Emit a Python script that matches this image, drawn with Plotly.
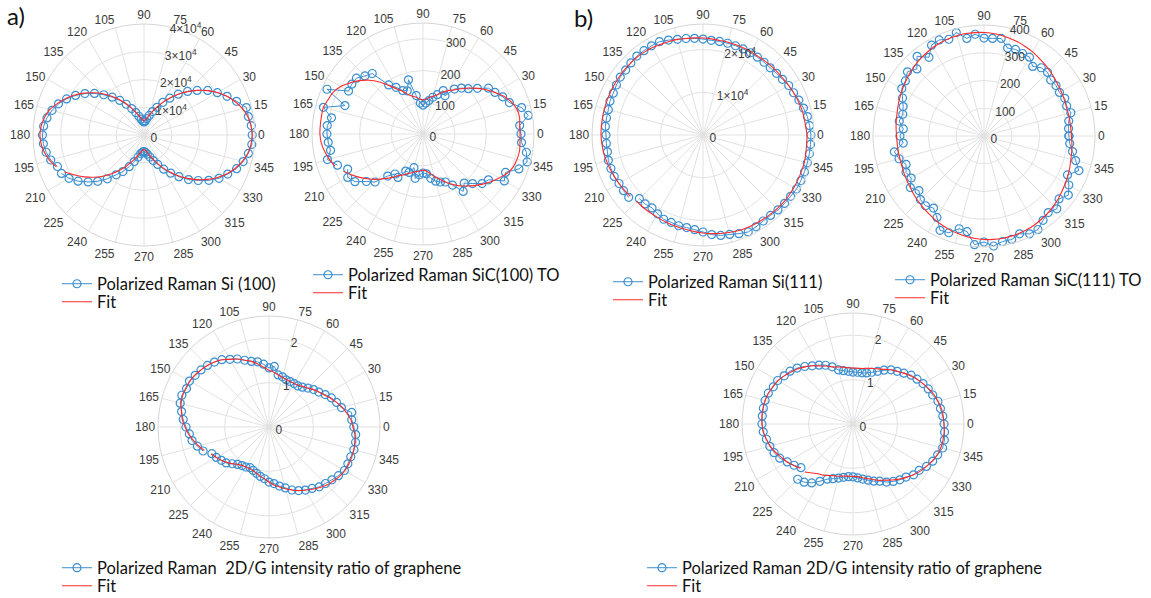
import plotly.graph_objects as go

W, H = 1151, 598
R = 111

# ---------------- data ----------------
ANG_205 = list(range(205, 565, 5))   # measurement angles, start 205 deg
ANG_225 = list(range(225, 585, 5))   # measurement angles, start 225 deg
ANG_0 = list(range(0, 360, 5))       # measurement angles, start 0 deg

SI100_DATA = [32800, 31200, 29000, 26300, 23600, 20600, 17500, 15200, 12600, 10200, 8200, 6800, 6200, 6000,
              6300, 7000, 8200, 9800, 11700, 14200, 16800, 19600, 22700, 25500, 28500, 31200, 33300, 35500, 37000, 38200, 39000,
              39000, 38800, 38200, 38200, 35500, 33000, 30500, 28000, 25000, 22200, 19200, 16200, 13600, 11000, 9000, 7300, 6000, 5000, 4700,
              5000, 5800, 7000, 8600, 10500, 12800, 15200, 17800, 20500, 23300, 26000, 28500, 30800, 32800, 34300, 35500, 36300, 36600, 36400, 35800, 34800, 33200]
SI100_FIT = [31600, 28800, 26300, 23700, 21000, 18200, 15600, 13100, 10800, 8900, 7300, 6200, 5400, 5200,
             5500, 6200, 7500, 9200, 11200, 13700, 16300, 19200, 22100, 25000, 27900, 30600, 33000, 35000, 36700, 38000, 38700,
             39000, 38700, 38000, 36700, 35000, 33000, 30600, 27900, 25000, 22100, 19200, 16300, 13700, 11200, 9200, 7500, 6200, 5500, 5200,
             5400, 6200, 7300, 8900, 10800, 13100, 15600, 18200, 21000, 23700, 26300, 28800, 31100, 33200, 35200, 36400, 37200, 37500, 37200, 36400, 35200, 33600]

SIC100_DATA = [262, 274, 262, 233, 214, 173, 154, 158, 129, 129, 110, 142, 129, 123,
               126, 142, 154, 161, 167, 186, 221, 202, 221, 243, 252, 296, 287, 322, 340, 331, 312,
               309, 306, 337, 322, 290, 277, 262, 252, 224, 202, 189, 173, 139, 151, 132, 120, 107, 98, 91,
               98, 123, 177, 145, 151, 170, 189, 249, 259, 274, 274, 271, 334, 262, 325, 293, 303, 303, 300, 296, 312, 287]
SIC100_FIT = [277, 259, 240, 221, 202, 183, 167, 151, 142, 132, 126, 120, 117, 114,
              117, 126, 139, 151, 167, 183, 199, 214, 230, 246, 262, 277, 293, 303, 307, 309, 307,
              306, 306, 309, 306, 296, 281, 262, 243, 224, 205, 186, 170, 158, 145, 132, 123, 117, 110, 107,
              110, 117, 123, 132, 148, 164, 186, 214, 240, 262, 281, 300, 312, 318, 325, 325, 325, 325, 322, 315, 306, 296]

SI111_DATA = [21080, 21080, 20840, 21310, 21780, 21780, 22010, 22010, 22250, 22720,
              23420, 23890, 24120, 24590, 25060, 24830, 24590, 24590, 24830, 24940, 25060, 25290, 25290, 25290, 25290, 25290, 25290,
              25290, 25060, 24830, 24360, 23890, 23420, 23190, 22720, 22480, 22250, 22250, 22250, 22250, 22250, 22250, 22250, 22250, 22250, 22480,
              22720, 22950, 23190, 23650, 24120, 24120, 24120, 24120, 23890, 23650, 23650, 23420, 23190, 23190, 22950, 22950, 22950,
              22720, 22720, 22720, 22950, 22950, 22950, 22720, 22720, 22720]
SI111_FIT = [22010, 22010, 22010, 22010, 22130, 22250, 22370, 22480, 22720, 22950,
             23190, 23420, 23650, 23890, 24010, 24120, 24240, 24360, 24470, 24590, 24590, 24590, 24590, 24590, 24590, 24470, 24360,
             24360, 24120, 24010, 23890, 23650, 23420, 23190, 22950, 22830, 22720, 22600, 22480, 22480, 22480, 22480, 22480, 22480, 22600, 22720,
             22830, 22950, 23190, 23300, 23420, 23650, 23770, 23890, 23890, 23890, 23890, 23890, 23890, 23890, 23890, 23890, 23890,
             23890, 23770, 23650, 23420, 23190, 22950, 22720, 22480, 22250]

SIC111_DATA = [306, 306, 310, 324, 317, 321, 314, 317, 314, 324, 321, 306, 328, 328, 332, 328, 357, 353,
               353, 368, 357, 386, 371, 382, 378, 346, 375, 342, 360, 346, 342, 324, 310, 303, 310, 292,
               303, 292, 328, 317, 299, 310, 303, 324, 306, 324, 328, 317, 339, 375, 371, 346, 350, 393,
               382, 398, 386, 386, 375, 389, 389, 371, 360, 371, 353, 371, 353, 332, 364, 342, 324, 310]
SIC111_FIT = [315, 314, 314, 314, 315, 318, 321, 324, 329, 334, 339, 344, 350, 355, 360, 364, 368, 371,
              373, 374, 375, 374, 373, 371, 368, 364, 360, 355, 350, 344, 339, 334, 329, 324, 321, 318,
              315, 314, 314, 314, 315, 318, 321, 324, 329, 334, 339, 344, 350, 355, 360, 364, 368, 371,
              373, 374, 375, 374, 373, 371, 368, 364, 360, 355, 350, 344, 339, 334, 329, 324, 321, 318]

GRA_A_DATA = [1.42, 1.37, 1.31, 1.26, 1.17, 1.10, 1.06, 1.04, 1.01, 1.04, 1.08, 1.13, 1.17, 1.24,
              1.28, 1.35, 1.42, 1.51, 1.58, 1.64, 1.69, 1.76, 1.80, 1.85, 1.91, 1.96, 1.96, 1.96, 1.98, 1.98, 1.96,
              1.91, 1.87, 1.89, 1.69, 1.62, 1.55, 1.46, 1.37, 1.31, 1.24, 1.17, 1.13, 1.13, 1.13, 1.13, 1.17, 1.19, 1.37, 1.33,
              1.42, 1.49, 1.53, 1.60, 1.69, 1.76, 1.85, 1.91, 1.96, 2.00, 2.03, 2.07, 2.05, 2.09, 2.07, 2.00, 1.94, 1.87, 1.80, 1.76, 1.67, 1.58]
GRA_A_FIT = [1.44, 1.37, 1.31, 1.24, 1.17, 1.10, 1.06, 1.04, 1.04, 1.05, 1.08, 1.13, 1.17, 1.24,
             1.31, 1.37, 1.44, 1.51, 1.58, 1.64, 1.71, 1.78, 1.85, 1.89, 1.94, 1.97, 1.98, 1.98, 1.98, 1.96, 1.94,
             1.89, 1.85, 1.78, 1.71, 1.62, 1.53, 1.44, 1.37, 1.31, 1.24, 1.19, 1.15, 1.13, 1.13, 1.14, 1.16, 1.19, 1.24, 1.28,
             1.35, 1.44, 1.53, 1.60, 1.69, 1.76, 1.85, 1.91, 1.96, 2.00, 2.04, 2.06, 2.07, 2.07, 2.05, 2.00, 1.96, 1.89, 1.82, 1.73, 1.64, 1.55]

GRA_B_DATA = [1.76, 1.71, 1.62, 1.49, 1.37, 1.31, 1.26, 1.22, 1.19, 1.19,
              1.22, 1.26, 1.31, 1.37, 1.42, 1.51, 1.58, 1.64, 1.69, 1.78, 1.82, 1.91, 1.98, 2.03, 2.09, 2.09, 2.07,
              2.05, 2.03, 2.00, 1.98, 1.91, 1.87, 1.82, 1.76, 1.71, 1.62, 1.55, 1.49, 1.40, 1.31, 1.24, 1.19, 1.17, 1.17, 1.17,
              1.19, 1.22, 1.26, 1.37, 1.46, 1.53, 1.60, 1.69, 1.78, 1.85, 1.89, 1.96, 1.98, 2.03, 2.05, 2.05, 2.05, 2.05,
              2.03, 1.98, 1.94, 1.89, 1.82, 1.71, 1.62, 1.53]
GRA_B_FIT = [1.53, 1.44, 1.37, 1.33, 1.28, 1.24, 1.22, 1.19, 1.18, 1.18,
             1.19, 1.23, 1.27, 1.33, 1.40, 1.46, 1.54, 1.62, 1.70, 1.78, 1.85, 1.91, 1.97, 2.02, 2.05, 2.06, 2.06,
             2.05, 2.04, 2.02, 1.98, 1.94, 1.88, 1.82, 1.76, 1.69, 1.62, 1.55, 1.49, 1.42, 1.37, 1.33, 1.30, 1.27, 1.26, 1.26,
             1.27, 1.30, 1.33, 1.37, 1.44, 1.51, 1.60, 1.68, 1.76, 1.82, 1.89, 1.95, 1.99, 2.03, 2.05, 2.06, 2.06, 2.05,
             2.03, 1.98, 1.93, 1.86, 1.78, 1.71, 1.63, 1.55]

SE_NAMES = ["Polarized Raman Si (100)", "Polarized Raman SiC(100) TO",
            "Polarized Raman Si(111)", "Polarized Raman SiC(111) TO",
            "Polarized Raman  2D/G intensity ratio of graphene",
            "Polarized Raman 2D/G intensity ratio of graphene"]

ANG_TICKS = list(range(0, 360, 15))
SUP = "\u00d710<sup>4</sup>"

# ---------------- layout geometry ----------------
PANELS = [
    # centre x, centre y, angles, data, fit, rmax, rtickvals, rticktext, legend text x, legend text y, closed
    (144, 135, ANG_205, SI100_DATA, SI100_FIT, 40000, [0, 10000, 20000, 30000, 40000],
     ["0", "1" + SUP, "2" + SUP, "3" + SUP, "4" + SUP], 97, 283, False),
    (423, 134, ANG_205, SIC100_DATA, SIC100_FIT, 350, [0, 100, 200, 300], ["0", "100", "200", "300"], 348, 274, False),
    (703, 135, ANG_225, SI111_DATA, SI111_FIT, 26000, [0, 10000, 20000], ["0", "1" + SUP, "2" + SUP], 648, 281, False),
    (984, 136, ANG_0, SIC111_DATA, SIC111_FIT, 400, [0, 100, 200, 300, 400], ["0", "100", "200", "300", "400"], 930, 279, True),
    (269, 427, ANG_205, GRA_A_DATA, GRA_A_FIT, 2.5, [0, 1, 2], ["0", "1", "2"], 97, 567, False),
    (853, 424, ANG_225, GRA_B_DATA, GRA_B_FIT, 2.5, [0, 1, 2], ["0", "1", "2"], 682, 567, False),
]

BLUE = "#3b8fd0"
RED = "#ff2a2a"
GRID = "#e2e2e2"
TICKC = "#3a3a3a"
LEG_FONT = dict(family="Lato", size=16.5, color="#111111")

fig = go.Figure()
layout = dict(width=W, height=H, margin=dict(l=0, r=0, t=0, b=0, autoexpand=False),
              paper_bgcolor="white", plot_bgcolor="white", showlegend=True)


def legend_box(tx, ty):
    return dict(x=(tx - 40) / W, y=1 - (ty - 16.5) / H, xanchor="left", yanchor="top",
                bgcolor="rgba(0,0,0,0)", borderwidth=0, tracegroupgap=0,
                itemwidth=30, font=LEG_FONT)


for i, (cx, cy, ang, data, fit, rmax, rtv, rtt, lx, ly, closed) in enumerate(PANELS):
    k = "" if i == 0 else str(i + 1)
    sub = "polar" + k
    leg_d = "legend" if i == 0 else "legend" + str(2 * i + 1)
    leg_f = "legend" + str(2 * i + 2)
    th_d, r_d = list(ang), list(data)
    th_f, r_f = list(ang), list(fit)
    if closed:
        th_d.append(ang[0]); r_d.append(data[0])
        th_f.append(ang[0]); r_f.append(fit[0])
    fig.add_trace(go.Scatterpolar(
        r=r_d, theta=th_d, subplot=sub, legend=leg_d, name=SE_NAMES[i], mode="lines+markers",
        line=dict(color=BLUE, width=1),
        marker=dict(symbol="circle-open", size=8, color=BLUE, line=dict(width=1.2)),
        cliponaxis=False))
    fig.add_trace(go.Scatterpolar(
        r=r_f, theta=th_f, subplot=sub, legend=leg_f, name="Fit", mode="lines",
        line=dict(color=RED, width=1.1, shape="spline"), cliponaxis=False))

    layout[sub] = dict(
        domain=dict(x=[(cx - R) / W, (cx + R) / W], y=[1 - (cy + R) / H, 1 - (cy - R) / H]),
        bgcolor="white",
        angularaxis=dict(rotation=0, direction="counterclockwise", tickmode="array",
                         tickvals=ANG_TICKS, ticktext=[str(v) for v in ANG_TICKS],
                         showgrid=True, gridcolor=GRID, gridwidth=1, showline=True,
                         linecolor="#d6d6d6", linewidth=1, ticks="",
                         tickfont=dict(family="Liberation Sans", size=12, color=TICKC)),
        radialaxis=dict(range=[0, rmax], tickmode="array", tickvals=rtv, ticktext=rtt,
                        angle=80, tickangle=80, showline=False, ticks="", showgrid=True,
                        gridcolor=GRID, gridwidth=1,
                        tickfont=dict(family="Liberation Sans", size=12, color=TICKC)),
    )
    layout[leg_d] = legend_box(lx, ly)
    layout[leg_f] = legend_box(lx, ly + 18)

layout["annotations"] = [
    dict(text="a)", x=5 / W, y=1 - 16 / H, xref="paper", yref="paper", xanchor="left", yanchor="middle",
         showarrow=False, font=dict(family="Lato", size=24, color="#111111")),
    dict(text="b)", x=572 / W, y=1 - 18 / H, xref="paper", yref="paper", xanchor="left", yanchor="middle",
         showarrow=False, font=dict(family="Lato", size=24, color="#111111")),
]

fig.update_layout(**layout)
fig.write_html("out.html")
